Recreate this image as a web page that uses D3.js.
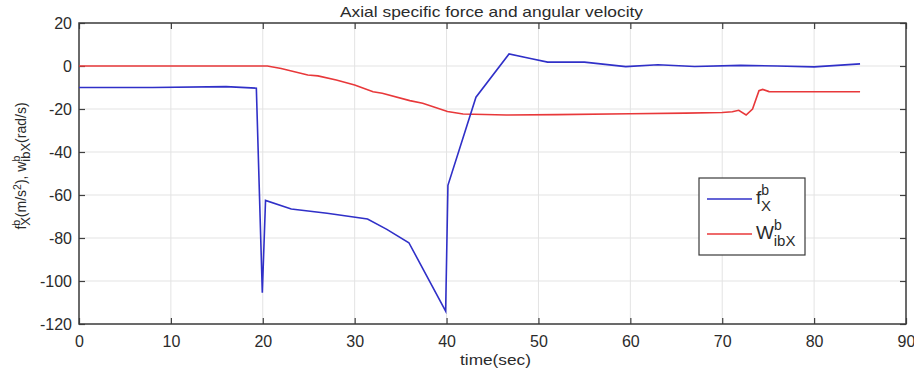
<!DOCTYPE html>
<html>
<head>
<meta charset="utf-8">
<script src="https://cdn.jsdelivr.net/npm/d3@7"></script>
<style>
  body { margin: 0; background: #fff; }
  text { font-family: "Liberation Sans", Arial, sans-serif; fill: #2b2b2b; }
</style>
</head>
<body>
<div id="chart"></div>
<script>
// f_x^b (blue)
const fxTime = [0, 8, 16, 19.3, 19.95, 20.3, 23.1, 27, 31.4, 33.5, 35.9, 39.9, 40.15, 43.2, 46.8, 49, 51, 55, 59.5, 63, 67, 72, 76, 80, 85];
const fxVal  = [-10, -10, -9.6, -10.3, -105.5, -62.5, -66.5, -68.5, -71.2, -76, -82.2, -114, -55.5, -14.5, 5.6, 3.6, 1.8, 1.8, -0.3, 0.6, -0.2, 0.3, 0, -0.4, 1];
// w_ibx^b (red)
const wTime = [0, 20.5, 22, 24.9, 26, 28, 30, 32, 33, 36, 37.4, 40.1, 41.8, 46.5, 52, 60, 66, 70, 71.1, 71.8, 72.6, 73.3, 74, 74.4, 75.1, 80, 85];
const wVal  = [0, 0, -1.2, -4.2, -4.6, -6.5, -8.8, -12, -12.7, -16.1, -17.3, -21.2, -22.3, -22.8, -22.6, -22.2, -21.9, -21.6, -21.3, -20.6, -22.8, -20, -11.5, -10.9, -11.9, -12, -12];

const xTicks = [0, 10, 20, 30, 40, 50, 60, 70, 80, 90];
const yTicks = [20, 0, -20, -40, -60, -80, -100, -120];

const width = 914, height = 374;
const mLeft = 79, mRight = 906, mTop = 23, mBottom = 324;

const svg = d3.select("#chart").append("svg")
  .attr("width", width).attr("height", height);

const x = d3.scaleLinear().domain([0, 90]).range([mLeft, mRight]);
const y = d3.scaleLinear().domain([-120, 20]).range([mBottom, mTop]);

// grid
svg.append("g").selectAll("line").data(xTicks.slice(1, -1)).join("line")
  .attr("x1", d => x(d)).attr("x2", d => x(d))
  .attr("y1", mTop).attr("y2", mBottom)
  .attr("stroke", "#e3e3e3").attr("stroke-width", 1);
svg.append("g").selectAll("line").data(yTicks.slice(1, -1)).join("line")
  .attr("x1", mLeft).attr("x2", mRight)
  .attr("y1", d => y(d)).attr("y2", d => y(d))
  .attr("stroke", "#e3e3e3").attr("stroke-width", 1);

// axes (ticks inward, on all four sides)
const axB = svg.append("g").attr("transform", `translate(0,${mBottom})`)
  .call(d3.axisBottom(x).tickValues(xTicks).tickFormat(String).tickSizeInner(-6).tickSizeOuter(0).tickPadding(12));
const axT = svg.append("g").attr("transform", `translate(0,${mTop})`)
  .call(d3.axisTop(x).tickValues(xTicks).tickSizeInner(-6).tickSizeOuter(0).tickFormat(""));
const axL = svg.append("g").attr("transform", `translate(${mLeft},0)`)
  .call(d3.axisLeft(y).tickValues(yTicks).tickFormat(String).tickSizeInner(-6).tickSizeOuter(0).tickPadding(7));
const axR = svg.append("g").attr("transform", `translate(${mRight},0)`)
  .call(d3.axisRight(y).tickValues(yTicks).tickSizeInner(-6).tickSizeOuter(0).tickFormat(""));

[axB, axT, axL, axR].forEach(a => {
  a.select(".domain").remove();
  a.selectAll("line").attr("stroke", "#404040").attr("stroke-width", 1.2);
  a.selectAll("text").attr("font-size", 16).style("fill", "#2b2b2b")
    .attr("font-family", "Liberation Sans, Arial, sans-serif");
});

svg.append("rect")
  .attr("x", mLeft).attr("y", mTop)
  .attr("width", mRight - mLeft).attr("height", mBottom - mTop)
  .attr("fill", "none").attr("stroke", "#3a3a3a").attr("stroke-width", 1.5);

const line = d3.line().x(d => x(d[0])).y(d => y(d[1]));

svg.append("path")
  .datum(wTime.map((t, i) => [t, wVal[i]]))
  .attr("d", line).attr("fill", "none")
  .attr("stroke", "#e8383a").attr("stroke-width", 1.6);

svg.append("path")
  .datum(fxTime.map((t, i) => [t, fxVal[i]]))
  .attr("d", line).attr("fill", "none")
  .attr("stroke", "#3030c8").attr("stroke-width", 1.6);

// title
svg.append("text").attr("x", 340).attr("y", 17)
  .attr("font-size", 15).attr("textLength", 303).attr("lengthAdjust", "spacingAndGlyphs")
  .text("Axial specific force and angular velocity");

// x label
svg.append("text").attr("x", 460).attr("y", 365)
  .attr("font-size", 15).attr("textLength", 71).attr("lengthAdjust", "spacingAndGlyphs")
  .text("time(sec)");

// y label
const yl = svg.append("text")
  .attr("transform", "translate(26,166) rotate(-90)")
  .attr("text-anchor", "middle").attr("font-size", 14);
yl.append("tspan").text("f");
yl.append("tspan").attr("font-size", 10.5).attr("dy", -6).text("b");
yl.append("tspan").attr("font-size", 13).attr("dx", -6).attr("dy", 10).text("X");
yl.append("tspan").attr("dy", -4).text("(m/s");
yl.append("tspan").attr("font-size", 10.5).attr("dy", -5).text("2");
yl.append("tspan").attr("dy", 5).text("),  w");
yl.append("tspan").attr("font-size", 10.5).attr("dy", -6).text("b");
yl.append("tspan").attr("font-size", 13).attr("dx", -6).attr("dy", 10).text("ibX");
yl.append("tspan").attr("dy", -4).text("(rad/s)");

// legend
const lg = svg.append("g");
lg.append("rect").attr("x", 699).attr("y", 178).attr("width", 106).attr("height", 77)
  .attr("fill", "#fff").attr("stroke", "#3a3a3a").attr("stroke-width", 1.2);
const legendItems = [["f", "X", "#3030c8", 199], ["W", "ibX", "#e8383a", 234]];
legendItems.forEach(([main, sub, color, ly]) => {
  lg.append("line").attr("x1", 707).attr("x2", 752).attr("y1", ly).attr("y2", ly)
    .attr("stroke", color).attr("stroke-width", 1.6);
  const t = lg.append("text").attr("x", 756).attr("y", ly + 5).attr("font-size", 19);
  t.append("tspan").text(main);
  t.append("tspan").attr("font-size", 14).attr("dy", -9).text("b");
  t.append("tspan").attr("font-size", 15).attr("dx", -8).attr("dy", 16).text(sub);
});
</script>
</body>
</html>
